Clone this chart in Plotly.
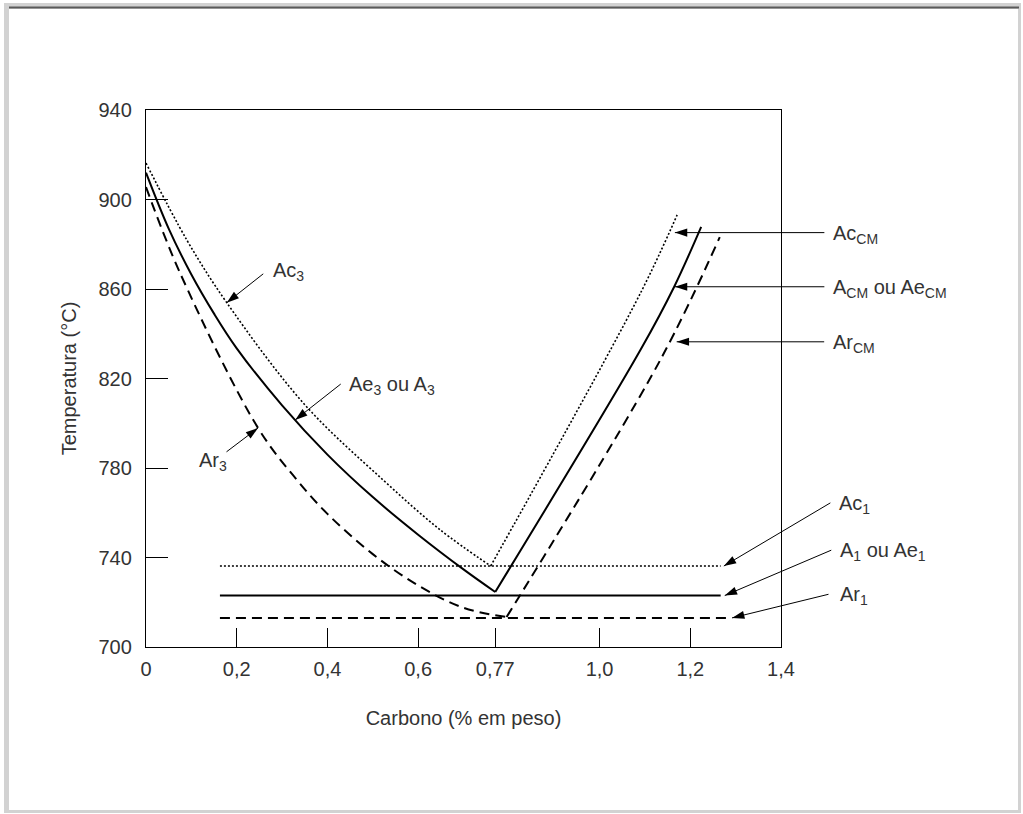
import math
import plotly.graph_objects as go

# ---- axes -------------------------------------------------------------
carbon_ticks = [0, 0.2, 0.4, 0.6, 0.77, 1.0, 1.2, 1.4]
carbon_tick_text = ["0", "0,2", "0,4", "0,6", "0,77", "1,0", "1,2", "1,4"]
temp_ticks = [700, 740, 780, 820, 860, 900, 940]

# ---- equilibrium lines (solid) ---------------------------------------
ae3_c = [0, 0.05, 0.1, 0.15, 0.2, 0.3, 0.4, 0.5, 0.6, 0.7, 0.77]
ae3_t = [912, 887, 866.5, 849, 833.5, 808, 786, 767, 750.2, 734.7, 724.6]
acm_c = [0.77, 1.09, 1.164, 1.224]
acm_t = [724.6, 832.7, 860.8, 887.8]
a1_c = [0.163, 1.267]
a1_t = [723, 723]

# ---- heating lines (dotted) ------------------------------------------
ac3_c = [0, 0.09, 0.178, 0.35, 0.523, 0.649, 0.76]
ac3_t = [916.3, 881.9, 853.9, 808.3, 774.6, 752.3, 736.2]
accm_c = [0.76, 1.09, 1.171]
accm_t = [736.2, 858.1, 893.1]
ac1_c = [0.163, 1.267]
ac1_t = [736.2, 736.2]

# ---- cooling lines (dashed) ------------------------------------------
ar3_c = [0, 0.075, 0.247, 0.333, 0.4, 0.5, 0.6, 0.7, 0.795]
ar3_t = [905.6, 867.2, 797.9, 774.6, 759.5, 741.5, 727.5, 717.5, 713.4]
arcm_c = [0.795, 1.135, 1.265]
arcm_t = [713.4, 828.7, 883.2]
ar1_c = [0.163, 1.28]
ar1_t = [713, 713]

# ---- callouts: label, arrow tip (data), tail offset (px), label box (px)
labels = ["Ac<sub>3</sub>", "Ae<sub>3</sub> ou A<sub>3</sub>", "Ar<sub>3</sub>",
          "Ac<sub>CM</sub>", "A<sub>CM</sub> ou Ae<sub>CM</sub>", "Ar<sub>CM</sub>",
          "Ac<sub>1</sub>", "A<sub>1</sub> ou Ae<sub>1</sub>", "Ar<sub>1</sub>"]
tip_c = [0.178, 0.329, 0.247, 1.166, 1.166, 1.170, 1.274, 1.276, 1.292]
tip_t = [853.9, 801.5, 797.9, 885.2, 861.0, 836.4, 736.2, 723.0, 713.0]
tail_dx = [38, 47, -33, 151, 151, 149, 108, 108, 98]
tail_dy = [-30, -37, 25, 0, 0, 0, -64, -46, -24]
label_x = [271, 347, 197, 831, 831, 831, 837, 838, 838]
label_y = [271, 385, 461, 234, 288, 343, 504, 551, 595]

FONT = "Liberation Sans, Arial, sans-serif"
TXT = "#333333"
W, H = 1023, 814
ML, MR, MT, MB = 146, 242, 110, 167
PW, PH = W - ML - MR, H - MT - MB


def px(x):
    return (x - ML) / PW


def py(y):
    return (H - MB - y) / PH


fig = go.Figure()

solid = dict(color="black", width=2)
dotted = dict(color="black", width=1.6, dash="2px,2px")
dashed = dict(color="black", width=2, dash="10px,6px")

for cx, ty, ln, shape in [
    (ae3_c, ae3_t, solid, "spline"), (acm_c, acm_t, solid, "spline"), (a1_c, a1_t, solid, "linear"),
    (ac3_c, ac3_t, dotted, "spline"), (accm_c, accm_t, dotted, "spline"), (ac1_c, ac1_t, dotted, "linear"),
    (ar3_c, ar3_t, dashed, "spline"), (arcm_c, arcm_t, dashed, "spline"), (ar1_c, ar1_t, dashed, "linear"),
]:
    fig.add_trace(go.Scatter(x=cx, y=ty, mode="lines", line=dict(shape=shape, smoothing=1.0, **ln),
                             hoverinfo="skip", showlegend=False))

# arrow heads
angles = [math.degrees(math.atan2(-dx, dy)) for dx, dy in zip(tail_dx, tail_dy)]
fig.add_trace(go.Scatter(
    x=tip_c, y=tip_t, mode="markers", cliponaxis=False, hoverinfo="skip", showlegend=False,
    marker=dict(symbol="arrow", size=13, angle=angles, color="black", line=dict(width=0)),
))

annotations = []
for i, lab in enumerate(labels):
    # arrow shaft
    annotations.append(dict(x=tip_c[i], y=tip_t[i], xref="x", yref="y", text="", showarrow=True,
                            arrowhead=0, arrowwidth=1, arrowcolor="black",
                            ax=tail_dx[i], ay=tail_dy[i], standoff=0, startstandoff=0))
    annotations.append(dict(x=px(label_x[i]), y=py(label_y[i]), xref="paper", yref="paper", text=lab,
                            showarrow=False, xanchor="left", yanchor="middle",
                            font=dict(family=FONT, size=20, color=TXT)))

shapes = [
    dict(type="rect", xref="paper", yref="paper", x0=px(4), x1=px(1021), y0=py(813), y1=py(3),
         fillcolor="#d2d2d2", line=dict(width=0), layer="below"),
    dict(type="rect", xref="paper", yref="paper", x0=px(9), x1=px(1018), y0=py(810), y1=py(9),
         fillcolor="white", line=dict(width=0), layer="below"),
    dict(type="line", xref="paper", yref="paper", x0=px(9), x1=px(1019), y0=py(7.5), y1=py(7.5),
         line=dict(color="#5a5a5a", width=2), layer="below"),
]

axis_common = dict(showline=True, linecolor="black", linewidth=1.3, mirror=True, showgrid=False,
                   zeroline=False, ticks="inside", tickcolor="black", tickwidth=1,
                   tickfont=dict(family=FONT, size=20, color=TXT))

fig.update_layout(
    width=W, height=H, autosize=False,
    margin=dict(l=ML, r=MR, t=MT, b=MB),
    paper_bgcolor="white", plot_bgcolor="rgba(0,0,0,0)",
    xaxis=dict(range=[0, 1.4], tickvals=carbon_ticks, ticktext=carbon_tick_text, ticklen=19,
               ticklabelstandoff=4,
               title=dict(text="Carbono (% em peso)", standoff=31, font=dict(family=FONT, size=20, color=TXT)),
               **axis_common),
    yaxis=dict(range=[700, 940], tickvals=temp_ticks, ticklen=22, ticklabelstandoff=9,
               title=dict(text="Temperatura (°C)", standoff=16, font=dict(family=FONT, size=20, color=TXT)),
               **axis_common),
    annotations=annotations,
    shapes=shapes,
)

fig.write_html("out.html")
